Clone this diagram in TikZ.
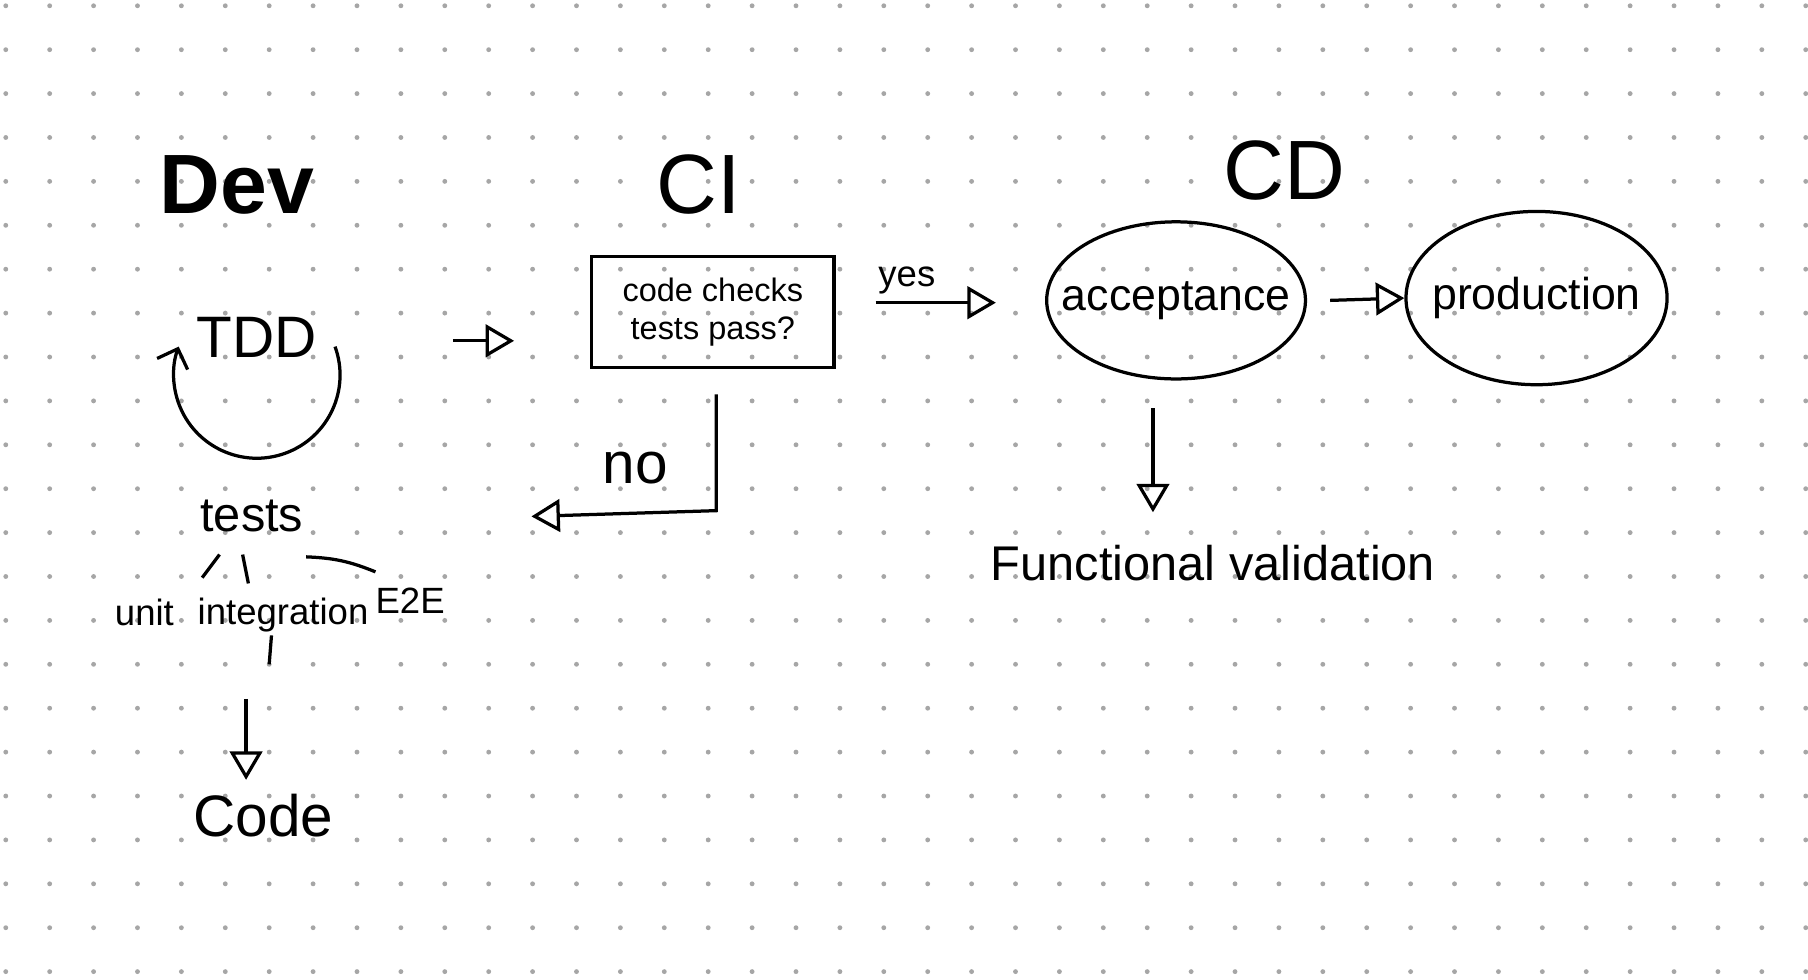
\documentclass[tikz,border=0pt]{standalone}
\usepackage{fontspec}
\setmainfont{Liberation Sans}
\usetikzlibrary{arrows.meta,positioning,shapes.geometric}

\begin{document}
\begin{tikzpicture}[x=1cm,y=-1cm,
    flow/.style={-{Triangle[open,length=7pt,width=8pt]}, thick},
    title/.style={font=\huge},
    hand/.style={font=\large},
    small/.style={font=\small},
    stage/.style={draw, thick, ellipse}]
    \useasboundingbox (0,0) rectangle (15.65,8.48);
    % Grid of dots
    \foreach \i in {0,...,41}
        \foreach \j in {0,...,22}
            \fill[black!35] (0.05+\i*0.38,0.05+\j*0.38) circle (0.6pt);

    % Titles
    \node[title, font=\huge\bfseries] (dev) at (2.05,1.6) {Dev};
    \node[title] (ci) at (6.05,1.6) {CI};
    \node[title] (cd) at (11.12,1.48) {CD};

    % Dev: TDD loop
    \node[font=\Large] (tdd) at (2.22,2.92) {TDD};
    \draw[thick, -{Straight Barb[length=4pt]}] (2.9,3.0) arc (-20:200:0.72);
    \node[hand] (tests) at (2.18,4.47) {tests};
    \node[small] (unit) at (1.25,5.3) {unit};
    \node[small] (integ) at (2.45,5.32) {integration};
    \node[small] (e2e) at (3.55,5.2) {E2E};
    \draw[thick] (1.9,4.8) -- (1.75,5.0);
    \draw[thick] (2.1,4.8) -- (2.15,5.05);
    \draw[thick] (2.65,4.82) to[bend left=10] (3.25,4.95);
    \draw[thick] (2.35,5.5) -- (2.33,5.75);
    \node[font=\Large] (code) at (2.28,7.06) {Code};
    \coordinate (codetop) at (2.13,6.05);
    \draw[flow] (codetop) -- (code.north -| codetop);

    % CI
    \coordinate (devout) at (3.92,2.95);
    \coordinate (ciin) at (4.45,2.95);
    \draw[flow] (devout) -- (ciin);
    \node[draw, thick, minimum width=2.1cm, minimum height=0.96cm, align=center, font=\footnotesize] (check) at (6.17,2.7) {code checks\\tests pass?};
    \coordinate (nocorner) at (6.2,4.42);
    \coordinate (noend) at (4.6,4.47);
    \draw[flow] (check.south -| nocorner) ++(0,0.22) -- (nocorner) -- (noend);
    \node[font=\Large] (no) at (5.5,4.05) {no};

    % CD
    \node[stage, minimum width=2.24cm, minimum height=1.36cm] (acc) at (10.18,2.6) {};
    \node[font=\fontsize{11}{13}\selectfont] at (acc.center) {acceptance};
    \node[stage, minimum width=2.26cm, minimum height=1.5cm] (prod) at (13.3,2.58) {};
    \node[font=\fontsize{11}{13}\selectfont] at (prod.center) {production};
    \coordinate (yesstart) at (7.58,2.62);
    \draw[flow] (yesstart) -- (8.62,2.62);
    \node[small] (yes) at (7.85,2.43) {yes};
    \draw[flow] (acc.east) ++(0.2,0) -- (prod.west);
    \node[hand] (func) at (10.5,4.87) {Functional validation};
    \draw[flow] (acc.south) ++(-0.2,0.24) -- ++(0,0.9);
\end{tikzpicture}
\end{document}
